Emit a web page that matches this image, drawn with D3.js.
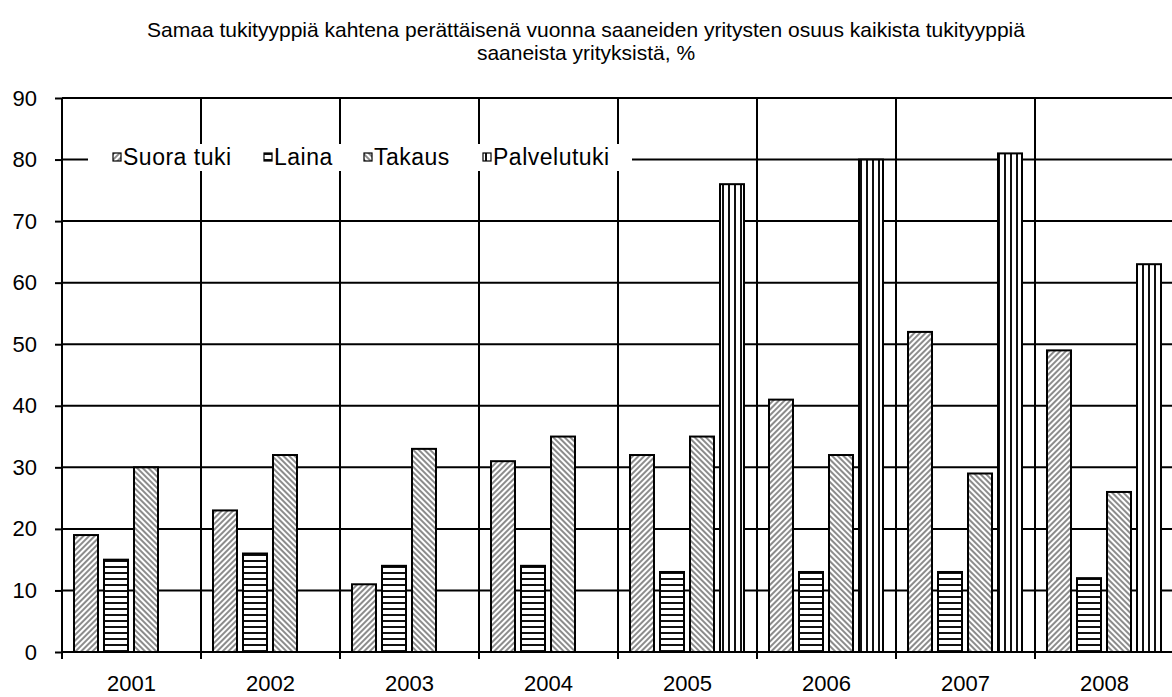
<!DOCTYPE html>
<html>
<head>
<meta charset="utf-8">
<script src="https://cdn.jsdelivr.net/npm/d3@7"></script>
<style>
  body { margin: 0; background: #fff; }
  svg { display: block; font-family: "Liberation Sans", Arial, sans-serif; }
</style>
</head>
<body>
<div id="chart"></div>
<script>
const years = ["2001", "2002", "2003", "2004", "2005", "2006", "2007", "2008"];
const seriesNames = ["Suora tuki", "Laina", "Takaus", "Palvelutuki"];
const suoraTuki = [19, 23, 11, 31, 32, 41, 52, 49];
const laina = [15, 16, 14, 14, 13, 13, 13, 12];
const takaus = [30, 32, 33, 35, 35, 32, 29, 26];
const palvelutuki = [null, null, null, null, 76, 80, 81, 63];
const yTicks = [0, 10, 20, 30, 40, 50, 60, 70, 80, 90];
const titleLines = [
    "Samaa tukityyppiä kahtena perättäisenä vuonna saaneiden yritysten osuus kaikista tukityyppiä",
    "saaneista yrityksistä, %"
];

const width = 1172, height = 697;
const plotLeft = 62, plotTop = 98, plotBottom = 652, plotRight = 1174;

const svg = d3.select("#chart").append("svg")
    .attr("width", width)
    .attr("height", height);

// patterns
const defs = svg.append("defs");
function stripes(id, angle, size, stroke, sw) {
    const p = defs.append("pattern")
        .attr("id", id)
        .attr("patternUnits", "userSpaceOnUse")
        .attr("width", size)
        .attr("height", size)
        .attr("patternTransform", `rotate(${angle})`);
    p.append("rect").attr("width", size).attr("height", size).attr("fill", "#fff");
    p.append("line")
        .attr("x1", 0).attr("y1", size / 2)
        .attr("x2", size).attr("y2", size / 2)
        .attr("stroke", stroke)
        .attr("stroke-width", sw);
}
stripes("p0", -45, 4, "#666", 1.5);
stripes("p1", 0, 6, "#111", 2);
stripes("p2", 45, 4, "#666", 1.5);
stripes("p3", 90, 6, "#111", 2);

const x0 = d3.scaleBand().domain(years).range([plotLeft, plotRight]);
const x1 = d3.scaleBand().domain(seriesNames).range([12, 126]).paddingInner(0.2);
const y = d3.scaleLinear().domain([0, 90]).range([plotBottom, plotTop]);

// title
svg.append("g").selectAll("text")
    .data(titleLines)
    .enter()
    .append("text")
    .attr("x", 586)
    .attr("y", (d, i) => 37 + i * 23)
    .attr("text-anchor", "middle")
    .attr("font-size", "21px")
    .attr("fill", "#000")
    .text(d => d);

// horizontal gridlines
svg.append("g").selectAll("line")
    .data(yTicks.filter(d => d > 0))
    .enter()
    .append("line")
    .attr("x1", plotLeft).attr("x2", width)
    .attr("y1", d => y(d)).attr("y2", d => y(d))
    .attr("stroke", "#000")
    .attr("stroke-width", 2);

// vertical gridlines with ticks below axis
svg.append("g").selectAll("line")
    .data(years.slice(1))
    .enter()
    .append("line")
    .attr("x1", d => x0(d)).attr("x2", d => x0(d))
    .attr("y1", plotTop).attr("y2", plotBottom + 7)
    .attr("stroke", "#000")
    .attr("stroke-width", 2);

// y axis
const yAxis = svg.append("g")
    .attr("transform", `translate(${plotLeft},0)`)
    .call(d3.axisLeft(y).tickValues(yTicks).tickSize(7).tickPadding(18));
yAxis.select(".domain").attr("stroke-width", 2).attr("d", `M0,${plotTop}V${plotBottom}`);
yAxis.selectAll(".tick line").attr("stroke-width", 2);
yAxis.selectAll("text")
    .attr("font-size", "22px")
    .attr("font-family", "Liberation Sans, Arial, sans-serif")
    .attr("fill", "#000");

// x axis
const xAxis = svg.append("g")
    .attr("transform", `translate(0,${plotBottom})`)
    .call(d3.axisBottom(x0).tickSize(0).tickPadding(23));
xAxis.select(".domain").attr("stroke-width", 2).attr("d", `M${plotLeft},0H${width}`);
xAxis.selectAll("text")
    .attr("font-size", "22px")
    .attr("font-family", "Liberation Sans, Arial, sans-serif")
    .attr("fill", "#000");
svg.append("line")
    .attr("x1", plotLeft).attr("x2", plotLeft)
    .attr("y1", plotBottom).attr("y2", plotBottom + 7)
    .attr("stroke", "#000").attr("stroke-width", 2);

// bars
const series = [suoraTuki, laina, takaus, palvelutuki];
const barData = [];
years.forEach((yr, i) => {
    seriesNames.forEach((s, j) => {
        if (series[j][i] != null) barData.push({ year: yr, name: s, idx: j, value: series[j][i] });
    });
});

svg.append("g").selectAll("rect")
    .data(barData)
    .enter()
    .append("rect")
    .attr("x", d => x0(d.year) + x1(d.name))
    .attr("y", d => y(d.value))
    .attr("width", x1.bandwidth())
    .attr("height", d => y(0) - y(d.value))
    .attr("fill", d => `url(#p${d.idx})`)
    .attr("stroke", "#000")
    .attr("stroke-width", 2);

// legend
const legend = svg.append("g");
legend.append("rect")
    .attr("x", 88).attr("y", 144)
    .attr("width", 544).attr("height", 27)
    .attr("fill", "#fff");

const legendX = [113, 264, 364, 483];
const item = legend.selectAll("g.item")
    .data(seriesNames)
    .enter()
    .append("g")
    .attr("class", "item")
    .attr("transform", (d, i) => `translate(${legendX[i]},157)`);
item.append("rect")
    .attr("x", 0).attr("y", -4)
    .attr("width", 8).attr("height", 8)
    .attr("fill", (d, i) => `url(#p${i})`)
    .attr("stroke", "#000")
    .attr("stroke-width", 1.2);
item.append("text")
    .attr("x", 10)
    .attr("y", 8)
    .attr("font-size", "23px")
    .attr("letter-spacing", "0.5px")
    .attr("fill", "#000")
    .text(d => d);
</script>
</body>
</html>
